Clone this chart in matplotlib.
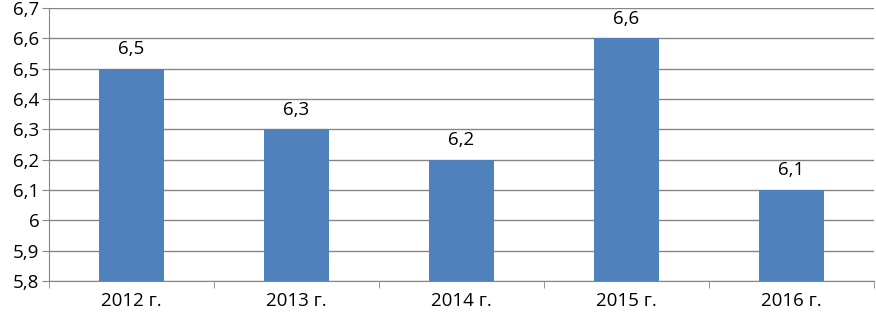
import matplotlib
matplotlib.use("Agg")
import matplotlib.pyplot as plt
import numpy as np

categories = ["2012 г.", "2013 г.", "2014 г.", "2015 г.", "2016 г."]
values = [6.5, 6.3, 6.2, 6.6, 6.1]
yticks = [5.8, 5.9, 6.0, 6.1, 6.2, 6.3, 6.4, 6.5, 6.6, 6.7]

plt.rcParams['font.family'] = ['Open Sans', 'DejaVu Sans']
fig = plt.figure(figsize=(8.76, 3.18), dpi=100)
ax = fig.add_axes([49/876, 37/318, 825/876, 273/318])

fs = 13.5
x = np.arange(len(categories))
ax.bar(x, values, width=0.39, color="#4F81BD", zorder=3)
for xi, v in zip(x, values):
    ax.text(xi, v + 0.035, f"{v:.1f}".replace(".", ","), ha="center", va="bottom", fontsize=fs, color="black")

ax.set_xlim(-0.5, len(categories) - 0.5)
ax.set_ylim(5.8, 6.7)
ax.set_yticks(yticks)
ax.set_yticklabels([("6" if abs(t - 6) < 1e-9 else f"{t:.1f}".replace(".", ",")) for t in yticks], fontsize=fs)
ax.yaxis.grid(True, color="#868686", linewidth=1, zorder=0)
ax.set_xticks(x)
ax.set_xticklabels(categories, fontsize=fs)
ax.tick_params(axis="x", which="major", length=0, pad=8)
ax.set_xticks(np.arange(-0.5, len(categories)), minor=True)
ax.tick_params(axis="x", which="minor", length=5, color="#868686")
ax.tick_params(axis="y", length=5, color="#868686", pad=2)
for s in ["top", "right"]:
    ax.spines[s].set_visible(False)
for s in ["left", "bottom"]:
    ax.spines[s].set_color("#868686")
fig.savefig("out.png", dpi=100)
